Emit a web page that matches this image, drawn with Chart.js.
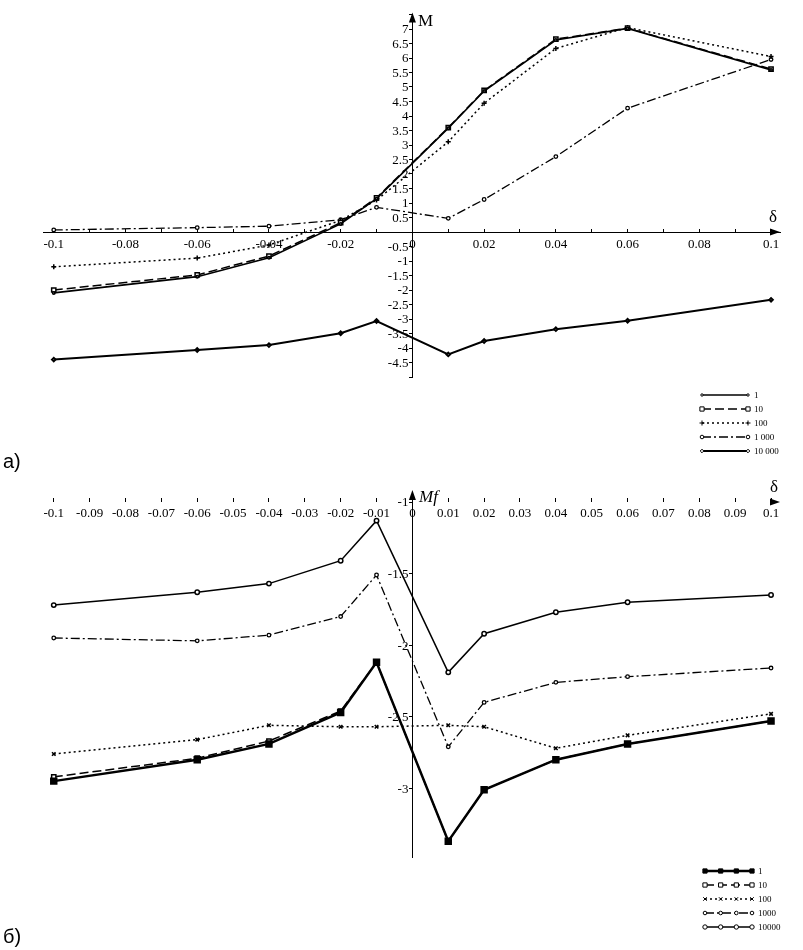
<!DOCTYPE html>
<html>
<head>
<meta charset="utf-8">
<script src="https://cdn.jsdelivr.net/npm/chart.js@4/dist/chart.umd.min.js"></script>
<style>
html,body{margin:0;padding:0;background:#fff;}
#wrap{position:relative;width:803px;height:950px;overflow:hidden;}
.pane{position:absolute;left:0;width:803px;}
.t{position:absolute;font-family:"Liberation Serif",serif;color:#000;line-height:1;white-space:nowrap;}
.s{position:absolute;font-family:"Liberation Sans",Arial,sans-serif;color:#000;line-height:1;font-size:20px;}
</style>
</head>
<body>
<div id="wrap">
  <div class="pane" style="top:0;height:480px;"><canvas id="c1" width="803" height="480"></canvas></div>
  <div class="pane" style="top:480px;height:470px;"><canvas id="c2" width="803" height="470"></canvas></div>
  <div class="t" style="left:418px;top:12px;font-size:17px;">M</div>
  <div class="t" style="left:769px;top:208px;font-size:17px;">δ</div>
  <div class="t" style="left:419px;top:488px;font-size:17px;font-style:italic;">Mf</div>
  <div class="t" style="left:770px;top:478px;font-size:17px;">δ</div>
  <div class="s" style="left:3px;top:451px;">а)</div>
  <div class="s" style="left:3px;top:926px;">б)</div>
</div>
<script>
// ---- data ----
const deltas = [-0.1, -0.06, -0.04, -0.02, -0.01, 0.01, 0.02, 0.04, 0.06, 0.1];

const topLabels = ['1', '10', '100', '1 000', '10 000'];
const topM1     = [-2.10, -1.54, -0.89, 0.28, 1.15, 3.58, 4.86, 6.62, 7.02, 5.59];
const topM10    = [-2.00, -1.48, -0.83, 0.32, 1.18, 3.60, 4.88, 6.65, 7.03, 5.62];
const topM100   = [-1.20, -0.90, -0.45, 0.40, 1.10, 3.11, 4.44, 6.33, 7.05, 6.05];
const topM1000  = [0.07, 0.15, 0.20, 0.42, 0.85, 0.47, 1.12, 2.60, 4.27, 5.95];
const topM10000 = [-4.40, -4.07, -3.90, -3.49, -3.07, -4.22, -3.76, -3.35, -3.06, -2.34];

const botLabels = ['1', '10', '100', '1000', '10000'];
const botM1     = [-2.95, -2.80, -2.69, -2.47, -2.12, -3.37, -3.01, -2.80, -2.69, -2.53];
const botM10    = [-2.92, -2.79, -2.67, -2.46, -2.12, -3.37, -3.01, -2.80, -2.69, -2.53];
const botM100   = [-2.76, -2.66, -2.56, -2.57, -2.57, -2.56, -2.57, -2.72, -2.63, -2.48];
const botM1000  = [-1.95, -1.97, -1.93, -1.80, -1.51, -2.71, -2.40, -2.26, -2.22, -2.16];
const botM10000 = [-1.72, -1.63, -1.57, -1.41, -1.13, -2.19, -1.92, -1.77, -1.70, -1.65];

function pts(arr){ return arr.map((v,i)=>({x:deltas[i], y:v})); }
function fmt(v){ const r = Math.round(v*100)/100; return String(r); }

const FONT = '"Liberation Serif", "Times New Roman", serif';

function overlayPlugin(cfg){
  return {
    id: 'overlay_' + cfg.name,
    afterDraw(chart){
      const ctx = chart.ctx, xs = chart.scales.x, ys = chart.scales.y, ca = chart.chartArea;
      const ax = xs.getPixelForValue(0);
      const ay = ys.getPixelForValue(cfg.axisY);
      ctx.save();
      // y tick labels
      ctx.font = '13px ' + FONT;
      ctx.fillStyle = '#000';
      ctx.textAlign = 'right';
      ctx.textBaseline = 'middle';
      ys.ticks.forEach(t=>{
        const v = Math.round(t.value*100)/100;
        if (v === 0 || v < cfg.yLabMin - 1e-6 || v > cfg.yLabMax + 1e-6) return;
        ctx.fillText(fmt(v), ax - 4, ys.getPixelForValue(t.value) + 1);
      });
      // arrows
      ctx.beginPath();
      ctx.moveTo(ax, ca.top - 2); ctx.lineTo(ax - 3.5, ca.top + 8); ctx.lineTo(ax + 3.5, ca.top + 8); ctx.closePath();
      ctx.fill();
      ctx.beginPath();
      ctx.moveTo(ca.right, ay); ctx.lineTo(ca.right - 10, ay - 3.5); ctx.lineTo(ca.right - 10, ay + 3.5); ctx.closePath();
      ctx.fill();
      // legend
      chart.data.datasets.forEach((ds, i)=>{
        const y = cfg.legY + i*cfg.legStep;
        const x1 = cfg.legX1, x2 = cfg.legX2;
        ctx.strokeStyle = '#000';
        ctx.lineWidth = ds.borderWidth;
        ctx.setLineDash(ds.borderDash || []);
        ctx.beginPath(); ctx.moveTo(x1, y); ctx.lineTo(x2, y); ctx.stroke();
        ctx.setLineDash([]);
        const n = cfg.legMarks;
        for (let k=0;k<n;k++){
          const px = n===1 ? x1 : x1 + (x2-x1)*k/(n-1);
          if (Chart.helpers && Chart.helpers.drawPoint){
            ctx.fillStyle = ds.pointBackgroundColor;
            ctx.strokeStyle = '#000';
            ctx.lineWidth = 1;
            Chart.helpers.drawPoint(ctx, {pointStyle: ds.pointStyle, rotation: 0, radius: Math.min(ds.pointRadius, 3), borderWidth: 1}, px, y);
          }
        }
        ctx.fillStyle = '#000';
        ctx.font = '9px ' + FONT;
        ctx.textAlign = 'left';
        ctx.textBaseline = 'middle';
        ctx.fillText(ds.label, x2 + 6, y + 1);
      });
      ctx.restore();
    }
  };
}

function makeChart(id, datasets, opt){
  return new Chart(document.getElementById(id), {
    type: 'line',
    data: { datasets },
    options: {
      responsive: false,
      animation: false,
      devicePixelRatio: 1,
      layout: { padding: opt.padding },
      plugins: { legend: {display:false}, tooltip: {enabled:false} },
      elements: { line: { tension: 0, borderColor: '#000' }, point: { borderColor: '#000', borderWidth: 1 } },
      scales: {
        x: {
          type: 'linear',
          position: { y: opt.axisY },
          min: -0.103, max: 0.1025,
          grid: { drawOnChartArea: false, drawTicks: true, tickLength: -4, color: '#000' },
          border: { display: opt.xBorder, color: '#000', width: 1 },
          ticks: {
            stepSize: 0.01, includeBounds: false, autoSkip: false, maxRotation: 0,
            padding: opt.xPad, color: '#000', font: { family: FONT, size: 13 },
            callback: (v)=>{ const h = Math.round(v*100); if (opt.evenOnly && h % 2 !== 0) return ''; return fmt(v); }
          }
        },
        y: {
          type: 'linear',
          position: { x: 0 },
          min: opt.yMin, max: opt.yMax,
          grid: { drawOnChartArea: false, drawTicks: true, tickLength: 3, color: '#000' },
          border: { display: true, color: '#000', width: 1 },
          ticks: { stepSize: 0.5, includeBounds: false, display: false }
        }
      }
    },
    plugins: [overlayPlugin(opt)]
  });
}

const W = '#fff', K = '#000';
makeChart('c1', [
  { label: topLabels[0], data: pts(topM1), borderColor: K, borderWidth: 1.6, pointStyle: 'circle', pointRadius: 1.2, pointBackgroundColor: W },
  { label: topLabels[1], data: pts(topM10), borderColor: K, borderWidth: 1.5, borderDash: [9,4], pointStyle: 'rect', pointRadius: 3, pointBackgroundColor: W },
  { label: topLabels[2], data: pts(topM100), borderColor: K, borderWidth: 1.5, borderDash: [2,3], pointStyle: 'cross', pointRadius: 2.5, pointBackgroundColor: W },
  { label: topLabels[3], data: pts(topM1000), borderColor: K, borderWidth: 1.3, borderDash: [9,3,2,3], pointStyle: 'circle', pointRadius: 1.8, pointBackgroundColor: W },
  { label: topLabels[4], data: pts(topM10000), borderColor: K, borderWidth: 2, pointStyle: 'rectRot', pointRadius: 1.8, pointBackgroundColor: W }
], {
  name: 'top', padding: { left: 43, right: 23, top: 14.5, bottom: 103 },
  axisY: 0, yMin: -5, yMax: 7.5, yLabMin: -4.5, yLabMax: 7,
  xBorder: true, xPad: 9, evenOnly: true,
  legY: 395, legStep: 14, legX1: 702, legX2: 748, legMarks: 2
});

makeChart('c2', [
  { label: botLabels[0], data: pts(botM1), borderColor: K, borderWidth: 2.5, pointStyle: 'rect', pointRadius: 3.5, pointBackgroundColor: K },
  { label: botLabels[1], data: pts(botM10), borderColor: K, borderWidth: 1.5, borderDash: [9,4], pointStyle: 'rect', pointRadius: 3, pointBackgroundColor: W },
  { label: botLabels[2], data: pts(botM100), borderColor: K, borderWidth: 1.5, borderDash: [2,3], pointStyle: 'crossRot', pointRadius: 2.5, pointBackgroundColor: W },
  { label: botLabels[3], data: pts(botM1000), borderColor: K, borderWidth: 1.3, borderDash: [9,3,2,3], pointStyle: 'circle', pointRadius: 1.8, pointBackgroundColor: W },
  { label: botLabels[4], data: pts(botM10000), borderColor: K, borderWidth: 1.5, pointStyle: 'circle', pointRadius: 2.2, pointBackgroundColor: W }
], {
  name: 'bot', padding: { left: 43, right: 23, top: 12, bottom: 93 },
  axisY: -1, yMin: -3.48, yMax: -0.93, yLabMin: -3, yLabMax: -1,
  xBorder: false, xPad: 8, evenOnly: false,
  legY: 391, legStep: 14, legX1: 705, legX2: 752, legMarks: 4
});
</script>
</body>
</html>
